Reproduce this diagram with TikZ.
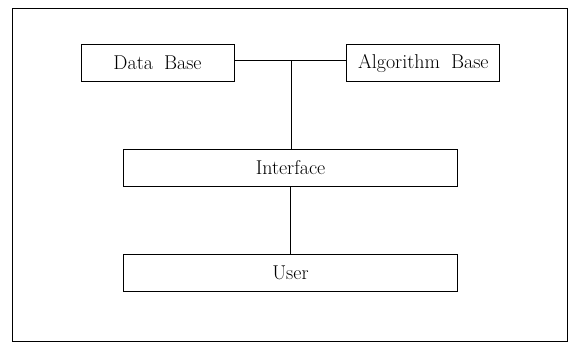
\documentclass[tikz,border=0pt]{standalone}
\usetikzlibrary{positioning}
\newcommand\boxfont{\fontsize{20}{24}\selectfont\spaceskip=0.55em\relax}
\begin{document}
\begin{tikzpicture}[x=1pt,y=-1pt,line width=0.8pt,
  box/.style={draw,minimum height=37pt,inner sep=0pt,font=\boxfont}]
\useasboundingbox (0,0) rectangle (572,343);
%\draw[help lines](0,0)grid(572,343);
\draw (12,8) rectangle (567,341);
\node[box,minimum width=153pt] (db) at (157.5,63) {Data Base};
\node[box,minimum width=153pt,right=112pt of db] (ab) {Algorithm Base};
\node[box,minimum width=334pt] (iface) at (290.5,167.5) {Interface};
\node[box,minimum width=334pt,below=68pt of iface] (user) {User};
\coordinate (j) at (291,60);
\draw (db.east |- j) -- (ab.west |- j);
\draw (j) -- (j |- iface.north);
\draw (iface) -- (user);
\end{tikzpicture}
\end{document}
